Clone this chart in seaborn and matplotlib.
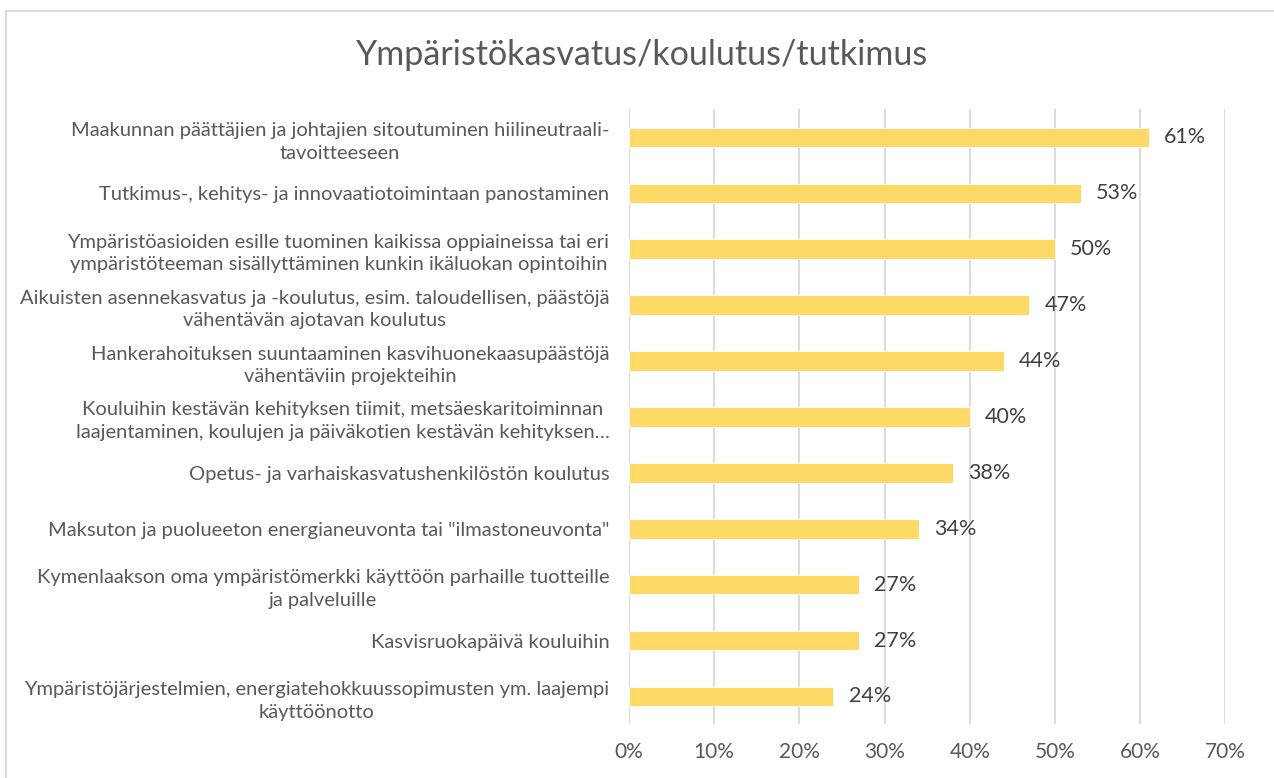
import matplotlib
matplotlib.use("Agg")
import matplotlib.pyplot as plt
import pandas as pd
import seaborn as sns
from matplotlib.lines import Line2D
from matplotlib.ticker import FuncFormatter

# Chart data
title = "Ympäristökasvatus/koulutus/tutkimus"
categories = [
    "Maakunnan päättäjien ja johtajien sitoutuminen hiilineutraali-\ntavoitteeseen",
    "Tutkimus-, kehitys- ja innovaatiotoimintaan panostaminen",
    "Ympäristöasioiden esille tuominen kaikissa oppiaineissa tai eri\nympäristöteeman sisällyttäminen kunkin ikäluokan opintoihin",
    "Aikuisten asennekasvatus ja -koulutus, esim. taloudellisen, päästöjä\nvähentävän ajotavan koulutus",
    "Hankerahoituksen suuntaaminen kasvihuonekaasupäästöjä\nvähentäviin projekteihin",
    "Kouluihin kestävän kehityksen tiimit, metsäeskaritoiminnan\nlaajentaminen, koulujen ja päiväkotien kestävän kehityksen…",
    "Opetus- ja varhaiskasvatushenkilöstön koulutus",
    "Maksuton ja puolueeton energianeuvonta tai \"ilmastoneuvonta\"",
    "Kymenlaakson oma ympäristömerkki käyttöön parhaille tuotteille\nja palveluille",
    "Kasvisruokapäivä kouluihin",
    "Ympäristöjärjestelmien, energiatehokkuussopimusten ym. laajempi\nkäyttöönotto",
]
values = [61, 53, 50, 47, 44, 40, 38, 34, 27, 27, 24]
x_ticks = [0, 10, 20, 30, 40, 50, 60, 70]

BAR = "#FFD966"
GRID = "#D9D9D9"
TXT = "#595959"

sns.set_theme(style="white")
plt.rcParams["font.family"] = ["Lato", "DejaVu Sans"]

df = pd.DataFrame({"kategoria": categories, "osuus": values})

fig = plt.figure(figsize=(12.74, 7.78), dpi=100)
ax = fig.add_axes([0.4936, 0.0689, 0.4683, 0.7904])

sns.barplot(data=df, x="osuus", y="kategoria", orient="h", color=BAR,
            saturation=1, width=0.35, edgecolor="white", linewidth=0.6, ax=ax)

ax.set_xlim(0, 70)
ax.set_ylim(len(categories) - 0.5, -0.5)
ax.set_xticks(x_ticks)
ax.xaxis.set_major_formatter(FuncFormatter(lambda v, _: f"{v:.0f}%"))
ax.set_xlabel("")
ax.set_ylabel("")
ax.xaxis.grid(True, color=GRID, linewidth=1.3)
ax.yaxis.grid(False)
ax.set_axisbelow(True)
sns.despine(ax=ax, left=True, bottom=True)

ax.tick_params(axis="x", length=0, pad=13, labelsize=15, labelcolor=TXT)
ax.tick_params(axis="y", length=0, pad=14, labelsize=14.5, labelcolor=TXT)
for lbl in ax.get_yticklabels():
    lbl.set_multialignment("center")
    lbl.set_linespacing(1.4)

ax.bar_label(ax.containers[0], labels=[f"{v}%" for v in values],
             padding=11, fontsize=15.5, color="#404040")

fig.text(0.504, 1 - 55 / 778, title, ha="center", va="center",
         fontsize=24.5, color=TXT)

# thin outer chart border (right/bottom edges fall outside the image)
bx, by = 6 / 1274, 1 - 10.7 / 778
fig.add_artist(Line2D([bx, bx], [0, by], color=GRID, lw=1.3, transform=fig.transFigure))
fig.add_artist(Line2D([bx, 1], [by, by], color=GRID, lw=1.3, transform=fig.transFigure))

fig.savefig("out.png", dpi=100)
